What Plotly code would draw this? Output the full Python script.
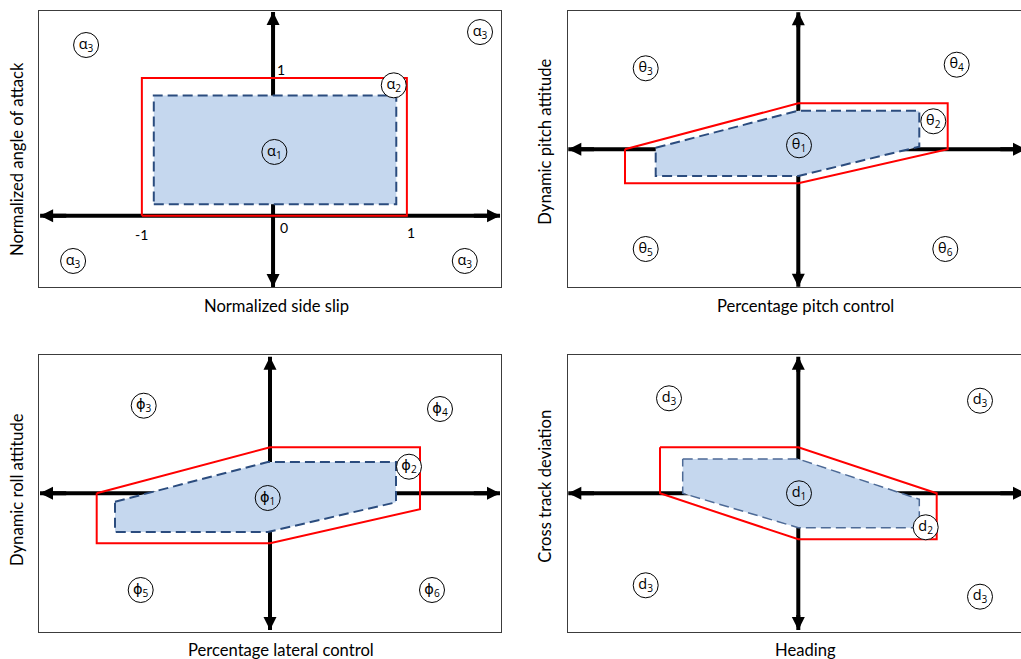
import plotly.graph_objects as go

W, H = 1021, 659

# ---------------- data (axes cross at 0,0) ----------------
# Panel 1: normalized side slip / normalized angle of attack
p1_red_x = [-0.99, 1.01, 1.01, -0.99, -0.99]
p1_red_y = [0.0, 0.0, 1.0, 1.0, 0.0]
p1_blue_x = [-0.90, 0.93, 0.93, -0.90, -0.90]
p1_blue_y = [0.083, 0.083, 0.874, 0.874, 0.083]
p1_axis_x = [-1.758, 1.713]
p1_axis_y = [-0.518, 1.479]
p1_labels = ["α<sub>3</sub>", "α<sub>3</sub>", "α<sub>3</sub>", "α<sub>3</sub>", "α<sub>2</sub>", "α<sub>1</sub>"]
p1_lab_x = [-1.411, 1.562, -1.509, 1.447, 0.911, 0.01]
p1_lab_y = [1.240, 1.334, -0.329, -0.329, 0.947, 0.463]
p1_tick_text = ["1", "0", "-1", "1"]
p1_tick_x = [0.06, 0.083, -0.996, 1.039]
p1_tick_y = [1.065, -0.089, -0.140, -0.123]

# Panel 2: percentage pitch control / dynamic pitch attitude
p2_red_x = [-1.733, 0, 1.494, 1.494, 0, -1.733, -1.733]
p2_red_y = [0, 0.46, 0.46, 0, -0.34, -0.34, 0]
p2_blue_x = [-1.426, 0, 1.21, 1.21, 0, -1.426, -1.426]
p2_blue_y = [0.016, 0.386, 0.386, 0.026, -0.267, -0.267, 0.016]
p2_axis_x = [-2.30, 2.277]
p2_axis_y = [-1.374, 1.37]
p2_labels = ["θ<sub>3</sub>", "θ<sub>4</sub>", "θ<sub>5</sub>", "θ<sub>6</sub>", "θ<sub>2</sub>", "θ<sub>1</sub>"]
p2_lab_x = [-1.526, 1.584, -1.526, 1.47, 1.35, 0.007]
p2_lab_y = [0.81, 0.846, -0.997, -0.997, 0.28, 0.04]

# Panel 3: percentage lateral control / dynamic roll attitude
p3_red_x = [-1.733, 0, 1.5, 1.5, 0, -1.733, -1.733]
p3_red_y = [0, 0.46, 0.46, -0.16, -0.5, -0.5, 0]
p3_blue_x = [-1.55, -0.023, 1.26, 1.26, -0.023, -1.55, -1.55]
p3_blue_y = [-0.084, 0.313, 0.313, -0.09, -0.387, -0.387, -0.084]
p3_axis_x = [-2.30, 2.30]
p3_axis_y = [-1.367, 1.366]
p3_labels = ["ϕ<sub>3</sub>", "ϕ<sub>4</sub>", "ϕ<sub>5</sub>", "ϕ<sub>6</sub>", "ϕ<sub>2</sub>", "ϕ<sub>1</sub>"]
p3_lab_x = [-1.263, 1.70, -1.293, 1.62, 1.39, -0.023]
p3_lab_y = [0.876, 0.843, -0.967, -0.967, 0.266, -0.047]

# Panel 4: heading / cross track deviation
p4_red_x = [-1.383, 0, 1.384, 1.384, 0, -1.383, -1.383]
p4_red_y = [0.46, 0.46, 0, -0.46, -0.46, 0, 0.46]
p4_blue_x = [-1.156, 0, 1.21, 1.21, 0, -1.156, -1.156]
p4_blue_y = [0.343, 0.343, -0.06, -0.344, -0.344, 0, 0.343]
p4_axis_x = [-2.30, 2.277]
p4_axis_y = [-1.367, 1.366]
p4_labels = ["d<sub>3</sub>", "d<sub>3</sub>", "d<sub>3</sub>", "d<sub>3</sub>", "d<sub>2</sub>", "d<sub>1</sub>"]
p4_lab_x = [-1.293, 1.817, -1.526, 1.817, 1.274, 0.007]
p4_lab_y = [0.95, 0.926, -0.92, -1.034, -0.34, 0.0]

x_titles = ["Normalized side slip", "Percentage pitch control",
            "Percentage lateral control", "Heading"]
y_titles = ["Normalized angle of attack", "Dynamic pitch attitude",
            "Dynamic roll attitude", "Cross track deviation"]

# ---------------- layout geometry ----------------
def px_dom_x(a, b):
    return [a / W, min(b / W, 1.0)]

def px_dom_y(top, bottom):
    return [1 - bottom / H, 1 - top / H]

panels = [
    dict(dx=px_dom_x(39.3, 500.7), dy=px_dom_y(11, 287), rx=[-1.764, 1.718], ry=[-0.518, 1.487],
         red=(p1_red_x, p1_red_y), blue=(p1_blue_x, p1_blue_y), ax=p1_axis_x, ay=p1_axis_y,
         lab=(p1_labels, p1_lab_x, p1_lab_y), mirror=True, dashc="#2b4c7e", dashw=2),
    dict(dx=px_dom_x(567.7, 1021), dy=px_dom_y(11, 287), rx=[-2.306, 2.227], ry=[-1.377, 1.383],
         red=(p2_red_x, p2_red_y), blue=(p2_blue_x, p2_blue_y), ax=p2_axis_x, ay=p2_axis_y,
         lab=(p2_labels, p2_lab_x, p2_lab_y), mirror=False, dashc="#2b4c7e", dashw=2),
    dict(dx=px_dom_x(39.3, 500.7), dy=px_dom_y(354.7, 631.7), rx=[-2.307, 2.307], ry=[-1.384, 1.386],
         red=(p3_red_x, p3_red_y), blue=(p3_blue_x, p3_blue_y), ax=p3_axis_x, ay=p3_axis_y,
         lab=(p3_labels, p3_lab_x, p3_lab_y), mirror=True, dashc="#2b4c7e", dashw=2),
    dict(dx=px_dom_x(567.7, 1021), dy=px_dom_y(354.7, 631.7), rx=[-2.306, 2.227], ry=[-1.384, 1.386],
         red=(p4_red_x, p4_red_y), blue=(p4_blue_x, p4_blue_y), ax=p4_axis_x, ay=p4_axis_y,
         lab=(p4_labels, p4_lab_x, p4_lab_y), mirror=False, dashc="#4d6a96", dashw=1.5),
]

x_title_pos = [(276.7, 306), (805, 306), (281, 649.5), (805, 649.5)]
y_title_pos = [(17, 159), (545, 141.7), (17, 490), (545, 486.7)]

LABEL_FONT = dict(family="Open Sans, DejaVu Sans", size=14.5, color="black")
TITLE_FONT = dict(family="Lato, Open Sans", size=16.6, color="black")

fig = go.Figure()
layout = dict(width=W, height=H, margin=dict(l=0, r=0, t=0, b=0),
              paper_bgcolor="white", plot_bgcolor="white", showlegend=False)
annotations = []

for i, p in enumerate(panels):
    n = "" if i == 0 else str(i + 1)
    xr, yr = "x" + n, "y" + n
    layout["xaxis" + n] = dict(domain=p["dx"], range=p["rx"], anchor=yr, showgrid=False,
                               zeroline=False, showticklabels=False, ticks="", showline=True,
                               mirror=True, linecolor="#3c3c3c", linewidth=1, fixedrange=True)
    layout["yaxis" + n] = dict(domain=p["dy"], range=p["ry"], anchor=xr, showgrid=False,
                               zeroline=False, showticklabels=False, ticks="", showline=True,
                               mirror=p["mirror"], linecolor="#3c3c3c", linewidth=1, fixedrange=True)
    axx, axy = p["ax"], p["ay"]
    # axis shafts
    fig.add_trace(go.Scatter(x=[axx[0], axx[1], None, 0, 0], y=[0, 0, None, axy[0], axy[1]],
                             mode="lines", line=dict(color="black", width=4),
                             xaxis=xr, yaxis=yr, hoverinfo="skip", cliponaxis=True))
    # blue region
    bx, by = p["blue"]
    fig.add_trace(go.Scatter(x=bx, y=by, mode="lines", fill="toself", fillcolor="#c5d7ee",
                             line=dict(color=p["dashc"], width=p["dashw"], dash="10px,5px"),
                             xaxis=xr, yaxis=yr, hoverinfo="skip"))
    # red envelope
    rx_, ry_ = p["red"]
    fig.add_trace(go.Scatter(x=rx_, y=ry_, mode="lines", line=dict(color="#ff0000", width=2),
                             xaxis=xr, yaxis=yr, hoverinfo="skip"))
    # circled labels (outer ones white-filled, central one transparent)
    labs, lx, ly = p["lab"]
    fig.add_trace(go.Scatter(x=lx[:-1], y=ly[:-1], text=labs[:-1], mode="markers+text",
                             textposition="middle center", textfont=LABEL_FONT,
                             marker=dict(symbol="circle", size=25, color="white",
                                         line=dict(color="black", width=1)),
                             xaxis=xr, yaxis=yr, hoverinfo="skip", cliponaxis=False))
    fig.add_trace(go.Scatter(x=lx[-1:], y=ly[-1:], text=labs[-1:], mode="markers+text",
                             textposition="middle center", textfont=LABEL_FONT,
                             marker=dict(symbol="circle", size=25, color="rgba(0,0,0,0)",
                                         line=dict(color="black", width=1)),
                             xaxis=xr, yaxis=yr, hoverinfo="skip", cliponaxis=False))
    # arrow heads at the four axis ends
    dxs = (p["rx"][1] - p["rx"][0]) * 0.06
    dys = (p["ry"][1] - p["ry"][0]) * 0.06
    heads = [(axx[0], 0, axx[0] + dxs, 0), (axx[1], 0, axx[1] - dxs, 0),
             (0, axy[0], 0, axy[0] + dys), (0, axy[1], 0, axy[1] - dys)]
    for hx, hy, tx, ty in heads:
        annotations.append(dict(x=hx, y=hy, ax=tx, ay=ty, xref=xr, yref=yr, axref=xr, ayref=yr,
                                text="", showarrow=True, arrowhead=2, arrowsize=0.65,
                                arrowwidth=4, arrowcolor="black", standoff=0))
    # axis titles
    tx_, ty_ = x_title_pos[i]
    annotations.append(dict(x=tx_ / W, y=1 - ty_ / H, xref="paper", yref="paper", text=x_titles[i],
                            showarrow=False, font=TITLE_FONT, xanchor="center", yanchor="middle"))
    tx_, ty_ = y_title_pos[i]
    annotations.append(dict(x=tx_ / W, y=1 - ty_ / H, xref="paper", yref="paper", text=y_titles[i],
                            showarrow=False, font=TITLE_FONT, textangle=-90,
                            xanchor="center", yanchor="middle"))

# tick numbers in panel 1
for t, x, y in zip(p1_tick_text, p1_tick_x, p1_tick_y):
    annotations.append(dict(x=x, y=y, xref="x", yref="y", text=t, showarrow=False,
                            font=dict(family="Lato, Open Sans", size=14, color="black"),
                            xanchor="center", yanchor="middle"))

layout["annotations"] = annotations
fig.update_layout(**layout)
fig.write_html("out.html")
